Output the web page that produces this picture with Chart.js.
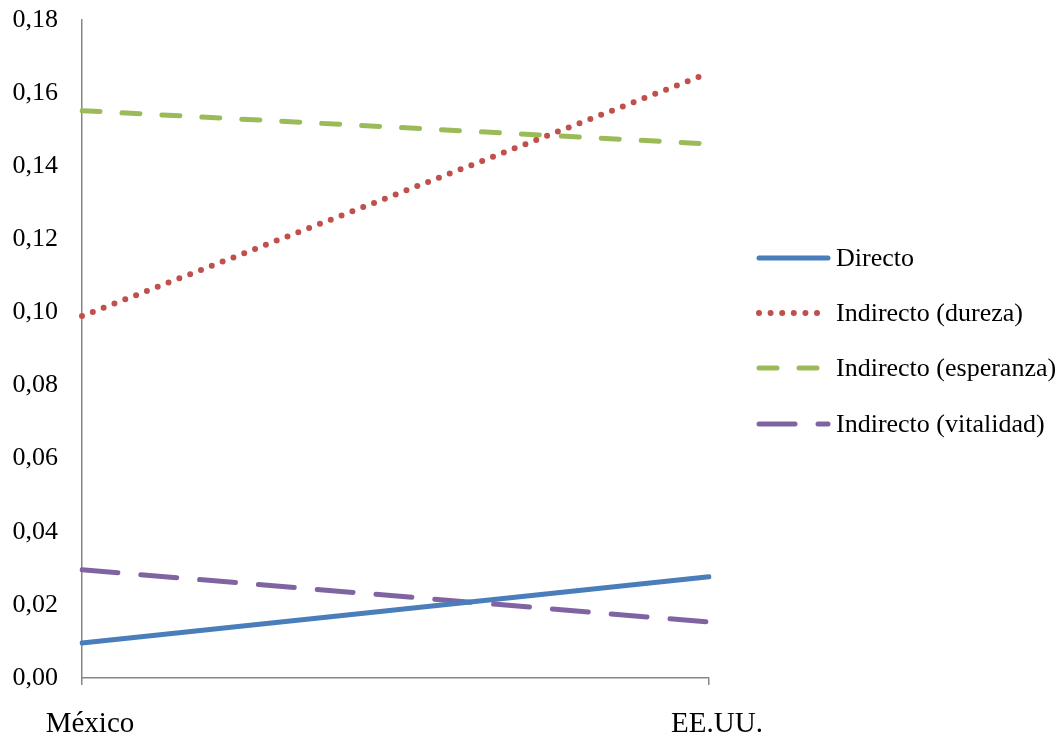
<!DOCTYPE html>
<html>
<head>
<meta charset="utf-8">
<script src="https://cdn.jsdelivr.net/npm/chart.js@4"></script>
<style>
  html, body { margin: 0; padding: 0; background: #fff; }
  #wrap { width: 1064px; height: 737px; position: relative; }
</style>
</head>
<body>
<div id="wrap"><canvas id="c" width="1064" height="737"></canvas></div>
<script>
const categories = ['México', 'EE.UU.'];
const directo = [0.0096, 0.0277];
const dureza = [0.0990, 0.1655];
const esperanza = [0.1552, 0.1461];
const vitalidad = [0.0296, 0.0153];
const seriesNames = ['Directo', 'Indirecto (dureza)', 'Indirecto (esperanza)', 'Indirecto (vitalidad)'];
const yMin = 0, yMax = 0.18, yStep = 0.02;

const serif = '"Liberation Serif", "Times New Roman", serif';
const axisGrey = '#868686';

// Legend on the right: a line sample in each series' style followed by its name
const sideLegend = {
  id: 'sideLegend',
  afterDraw(chart) {
    const ctx = chart.ctx;
    const rows = [258, 313, 368, 424];
    const x0 = 759, x1 = 828, tx = 836;
    chart.data.datasets.forEach((ds, i) => {
      const y = rows[i];
      ctx.save();
      ctx.strokeStyle = ds.borderColor;
      ctx.lineWidth = ds.borderWidth;
      ctx.lineCap = ds.borderCapStyle || 'butt';
      ctx.setLineDash(ds.borderDash || []);
      ctx.beginPath();
      ctx.moveTo(x0, y);
      ctx.lineTo(x1, y);
      ctx.stroke();
      ctx.restore();
      ctx.save();
      ctx.fillStyle = '#000';
      ctx.font = '26px ' + serif;
      ctx.textBaseline = 'middle';
      ctx.textAlign = 'left';
      ctx.fillText(ds.label, tx, y + 1);
      ctx.restore();
    });
  }
};

new Chart(document.getElementById('c'), {
  type: 'line',
  data: {
    labels: categories,
    datasets: [
      { label: seriesNames[0], data: directo, borderColor: '#4A7EBB', borderWidth: 5,
        borderCapStyle: 'round', borderDash: [] },
      { label: seriesNames[1], data: dureza, borderColor: '#C0504D', borderWidth: 6,
        borderCapStyle: 'round', borderDash: [0, 11.6] },
      { label: seriesNames[2], data: esperanza, borderColor: '#9BBB59', borderWidth: 5,
        borderCapStyle: 'round', borderDash: [18, 22] },
      { label: seriesNames[3], data: vitalidad, borderColor: '#8064A2', borderWidth: 5,
        borderCapStyle: 'round', borderDash: [36, 23] }
    ]
  },
  options: {
    responsive: false,
    animation: false,
    devicePixelRatio: 1,
    layout: { padding: { left: 0, top: 20, right: 355, bottom: 0 } },
    elements: { point: { radius: 0 }, line: { tension: 0, fill: false } },
    plugins: { legend: { display: false }, tooltip: { enabled: false } },
    scales: {
      x: {
        type: 'category',
        offset: false,
        grid: { drawOnChartArea: false, drawTicks: true, tickLength: 7, color: axisGrey, lineWidth: 1.5 },
        border: { display: true, color: axisGrey, width: 1.5 },
        ticks: { font: { family: serif, size: 29 }, color: '#000', padding: 22, labelOffset: 8,
                 maxRotation: 0, autoSkip: false },
        afterFit(scale) { scale.height = 59; scale.paddingLeft = 0; scale.paddingRight = 0; }
      },
      y: {
        min: yMin,
        max: yMax,
        grid: { drawOnChartArea: false, drawTicks: false, color: axisGrey },
        border: { display: true, color: axisGrey, width: 1.5 },
        ticks: {
          stepSize: yStep,
          font: { family: serif, size: 26 },
          color: '#000',
          padding: 24,
          callback: v => v.toFixed(2).replace('.', ',')
        },
        afterFit(scale) { scale.width = 82; scale.paddingTop = 0; scale.paddingBottom = 0; }
      }
    }
  },
  plugins: [sideLegend]
});
</script>
</body>
</html>
